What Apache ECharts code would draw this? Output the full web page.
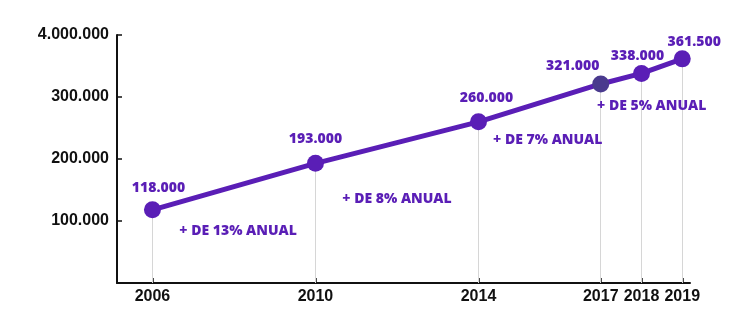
<!DOCTYPE html>
<html>
<head>
<meta charset="utf-8">
<script src="https://cdn.jsdelivr.net/npm/echarts@6/dist/echarts.min.js"></script>
<style>
  html, body { margin: 0; padding: 0; background: #fff; }
  #chart { width: 740px; height: 325px; }
</style>
</head>
<body>
<div id="chart"></div>
<script>
// Years and totals for each milestone
const years = [2006, 2010, 2014, 2017, 2018, 2019];
const totals = [118000, 193000, 260000, 321000, 338000, 361500];
const totalLabels = ['118.000', '193.000', '260.000', '321.000', '338.000', '361.500'];

// Y axis tick values and their printed text
const yTicks = [100000, 200000, 300000, 400000];
const yTickLabels = ['100.000', '200.000', '300.000', '4.000.000'];

// Growth notes between milestones, placed in data units (year, value)
const growthText = ['+ DE 13% ANUAL', '+ DE 8% ANUAL', '+ DE 7% ANUAL', '+ DE 5% ANUAL'];
const growthYear = [2008.1, 2012.0, 2015.7, 2018.25];
const growthValue = [84000, 136000, 231000, 286000];

const PURPLE = '#5a1eb6';
const DARK_POINT = '#4a3a8e';

// Per-point label nudges so labels clear the line
const labelNudge = [[6, 0], [0, -3], [8, -2], [-28, 4], [-4, 4], [12, 5]];

const chart = echarts.init(document.getElementById('chart'));

const lineData = years.map((y, i) => ({
  value: [y, totals[i]],
  itemStyle: { color: y === 2017 ? DARK_POINT : PURPLE },
  label: { offset: labelNudge[i] }
}));

const dropLines = years.map((y, i) => [
  { coord: [y, 0] },
  { coord: [y, totals[i]] }
]);

const labelFont = {
  color: PURPLE,
  fontFamily: 'Open Sans',
  fontWeight: 800,
  fontSize: 14
};

chart.setOption({
  animation: false,
  backgroundColor: '#fff',
  grid: { left: 117, right: 50, top: 35, bottom: 42 },
  xAxis: {
    type: 'value',
    min: 2005.13,
    max: 2019.19,
    splitLine: { show: false },
    axisLine: { show: true, lineStyle: { color: '#111', width: 2 } },
    axisTick: {
      show: true, inside: true, length: 5,
      customValues: years,
      lineStyle: { color: '#111', width: 1.5 }
    },
    axisLabel: {
      customValues: years,
      margin: 6,
      color: '#111',
      fontFamily: 'Liberation Sans',
      fontWeight: 'bold',
      fontSize: 16,
      formatter: v => String(v)
    }
  },
  yAxis: {
    type: 'value',
    min: 0,
    max: 400000,
    interval: 100000,
    splitLine: { show: false },
    axisLine: { show: true, lineStyle: { color: '#111', width: 2 } },
    axisTick: {
      show: true, inside: true, length: 5,
      customValues: yTicks,
      lineStyle: { color: '#111', width: 1.5 }
    },
    axisLabel: {
      customValues: yTicks,
      margin: 8,
      color: '#111',
      fontFamily: 'Liberation Sans',
      fontWeight: 'bold',
      fontSize: 16,
      formatter: v => {
        const i = yTicks.indexOf(v);
        return i >= 0 ? yTickLabels[i] : '';
      }
    }
  },
  series: [
    {
      type: 'line',
      data: lineData,
      symbol: 'circle',
      symbolSize: 17,
      lineStyle: { color: PURPLE, width: 5 },
      itemStyle: { color: PURPLE },
      z: 3,
      label: Object.assign({
        show: true,
        position: 'top',
        distance: 6,
        formatter: p => totalLabels[p.dataIndex]
      }, labelFont),
      markLine: {
        silent: true,
        symbol: 'none',
        z: 1,
        label: { show: false },
        lineStyle: { color: '#d6d6d6', width: 1, type: 'solid' },
        emphasis: { disabled: true },
        data: dropLines
      }
    },
    {
      type: 'scatter',
      symbolSize: 0,
      silent: true,
      itemStyle: { opacity: 1 },
      data: growthYear.map((y, i) => [y, growthValue[i]]),
      label: Object.assign({
        show: true,
        position: 'inside',
        formatter: p => growthText[p.dataIndex]
      }, labelFont)
    }
  ]
});
</script>
</body>
</html>
